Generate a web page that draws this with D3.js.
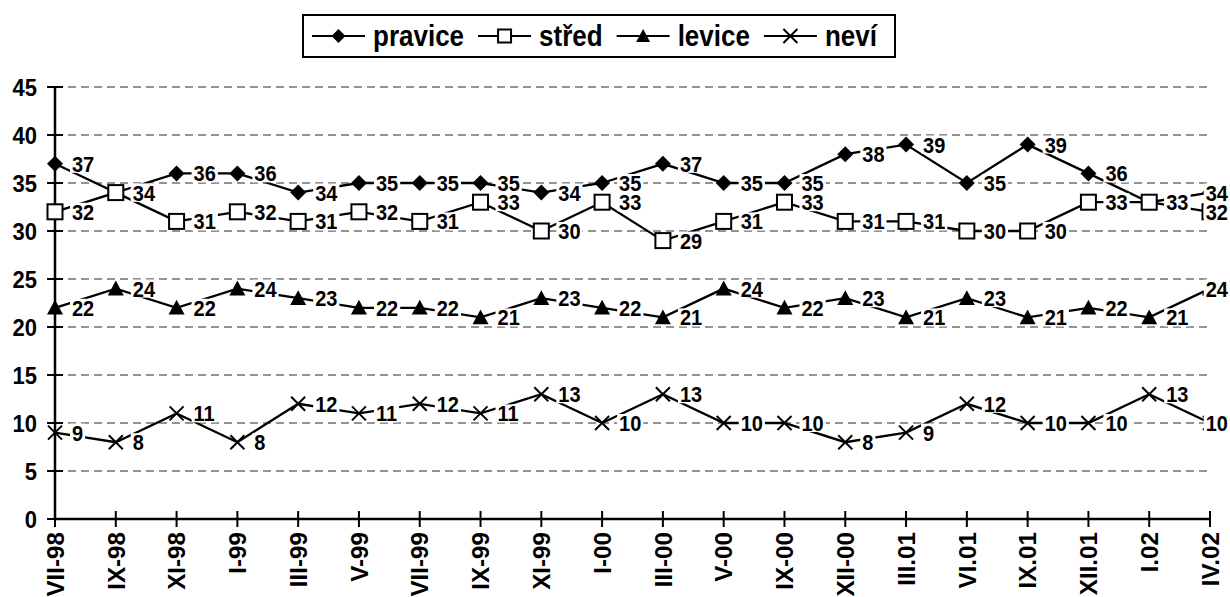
<!DOCTYPE html>
<html>
<head>
<meta charset="utf-8">
<script src="https://cdn.jsdelivr.net/npm/d3@7"></script>
<style>
  body { margin: 0; background: #fff; }
  svg text { font-family: "Liberation Sans", Arial, sans-serif; font-weight: bold; fill: #000; }
</style>
</head>
<body>
<div id="chart"></div>
<script>
// Categories and series
const months = ["VII-98", "IX-98", "XI-98", "I-99", "III-99", "V-99", "VII-99", "IX-99", "XI-99", "I-00",
                "III-00", "V-00", "IX-00", "XII-00", "III.01", "VI.01", "IX.01", "XII.01", "I.02", "IV.02"];
const pravice = [37, 34, 36, 36, 34, 35, 35, 35, 34, 35, 37, 35, 35, 38, 39, 35, 39, 36, 33, 34];
const stred   = [32, 34, 31, 32, 31, 32, 31, 33, 30, 33, 29, 31, 33, 31, 31, 30, 30, 33, 33, 32];
const levice  = [22, 24, 22, 24, 23, 22, 22, 21, 23, 22, 21, 24, 22, 23, 21, 23, 21, 22, 21, 24];
const nevi    = [9, 8, 11, 8, 12, 11, 12, 11, 13, 10, 13, 10, 10, 8, 9, 12, 10, 10, 13, 10];
const yTicks  = [0, 5, 10, 15, 20, 25, 30, 35, 40, 45];

const series = [
    {name: "pravice", values: pravice, marker: "diamond"},
    {name: "střed", values: stred, marker: "square"},
    {name: "levice", values: levice, marker: "triangle"},
    {name: "neví", values: nevi, marker: "cross"}
];

const width = 1230, height = 597;
const svg = d3.select("#chart").append("svg")
    .attr("width", width)
    .attr("height", height);

// Scales
const x = d3.scalePoint().domain(months).range([55, 1210]);
const y = d3.scaleLinear().domain([0, 45]).range([519, 87]);

// Marker drawing (s = half width)
function drawMarker(g, type, s) {
    if (type === "diamond") {
        g.append("path").attr("d", `M0,${-s}L${s},0L0,${s}L${-s},0Z`).attr("fill", "#000");
    } else if (type === "square") {
        g.append("rect").attr("x", -s + 0.5).attr("y", -s + 0.5)
            .attr("width", 2 * s - 1).attr("height", 2 * s - 1)
            .attr("fill", "#fff").attr("stroke", "#000").attr("stroke-width", 2);
    } else if (type === "triangle") {
        g.append("path").attr("d", `M0,${-s}L${s},${s * 0.85}L${-s},${s * 0.85}Z`).attr("fill", "#000");
    } else {
        g.append("path").attr("d", `M${-s},${-s}L${s},${s}M${-s},${s}L${s},${-s}`)
            .attr("stroke", "#000").attr("stroke-width", 2).attr("fill", "none");
    }
}

// Gridlines
svg.append("g")
    .selectAll("line")
    .data(yTicks.filter(d => d > 0))
    .enter().append("line")
    .attr("x1", x.range()[0]).attr("x2", x.range()[1])
    .attr("y1", d => y(d)).attr("y2", d => y(d))
    .attr("stroke", "#707070")
    .attr("stroke-width", 1.5)
    .attr("stroke-dasharray", "8,5");

// Axes (cross tick marks)
const yAxis = svg.append("g").attr("transform", `translate(${x.range()[0]},0)`);
yAxis.append("line").attr("y1", y(0)).attr("y2", y(45)).attr("stroke", "#000").attr("stroke-width", 2.5);
yAxis.selectAll(".tk").data(yTicks).enter().append("line")
    .attr("x1", -8).attr("x2", 8)
    .attr("y1", d => y(d)).attr("y2", d => y(d))
    .attr("stroke", "#000").attr("stroke-width", 2);
yAxis.selectAll(".lb").data(yTicks).enter().append("text")
    .attr("transform", d => `translate(-18,${y(d)}) scale(1,1.1)`)
    .attr("dy", "0.36em")
    .attr("text-anchor", "end")
    .style("font-size", "22px")
    .text(d => d);

const xAxis = svg.append("g").attr("transform", `translate(0,${y(0)})`);
xAxis.append("line").attr("x1", x.range()[0]).attr("x2", x.range()[1]).attr("stroke", "#000").attr("stroke-width", 2.5);
xAxis.selectAll(".tk").data(months).enter().append("line")
    .attr("x1", d => x(d)).attr("x2", d => x(d))
    .attr("y1", -8).attr("y2", 8)
    .attr("stroke", "#000").attr("stroke-width", 2);
xAxis.selectAll(".lb").data(months).enter().append("text")
    .attr("transform", d => `translate(${x(d)},13) rotate(-90) scale(1.1,1.1)`)
    .attr("dy", "0.36em")
    .attr("text-anchor", "end")
    .style("font-size", "22px")
    .text(d => d);

// Lines and markers
const line = d3.line().x((d, i) => x(months[i])).y(d => y(d));
series.forEach(s => {
    svg.append("path")
        .datum(s.values)
        .attr("d", line)
        .attr("fill", "none")
        .attr("stroke", "#000")
        .attr("stroke-width", 2.3);
    s.values.forEach((v, i) => {
        const g = svg.append("g").attr("transform", `translate(${x(months[i])},${y(v)})`);
        drawMarker(g, s.marker, s.marker === "cross" ? 7 : 8);
    });
});

// Data labels with white backgrounds, on top of everything
const labelLayer = svg.append("g");
series.forEach(s => {
    s.values.forEach((v, i) => {
        const px = x(months[i]), py = y(v);
        const g = labelLayer.append("g");
        const rect = g.append("rect").attr("fill", "#fff");
        const t = g.append("text")
            .attr("dy", "0.36em")
            .style("font-size", "20px")
            .text(v);
        const w = t.node().getComputedTextLength();
        const tx = Math.min(px + 17, width - 2 - w);
        t.attr("transform", `translate(${tx},${py}) scale(1,1.1)`);
        rect.attr("x", tx - 2).attr("y", py - 9).attr("width", w + 4).attr("height", 18);
    });
});

// Legend
const legend = svg.append("g");
const box = legend.append("rect")
    .attr("y", 15).attr("height", 42)
    .attr("fill", "#fff").attr("stroke", "#000").attr("stroke-width", 2);
let lx = 312;
series.forEach(s => {
    legend.append("line")
        .attr("x1", lx).attr("x2", lx + 53)
        .attr("y1", 36).attr("y2", 36)
        .attr("stroke", "#000").attr("stroke-width", 2);
    const g = legend.append("g").attr("transform", `translate(${lx + 26.5},36)`);
    drawMarker(g, s.marker, 7);
    const t = legend.append("text")
        .attr("transform", `translate(${lx + 61},36) scale(1,1.1)`)
        .attr("dy", "0.36em")
        .style("font-size", "26px")
        .text(s.name);
    lx += 61 + t.node().getComputedTextLength() + 14;
});
box.attr("x", 303).attr("width", Math.max(lx - 4, 895) - 303);
</script>
</body>
</html>
